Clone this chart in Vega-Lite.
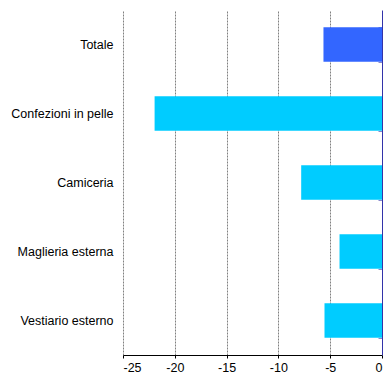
{
  "$schema": "https://vega.github.io/schema/vega-lite/v6.json",
  "autosize": {"type": "none"},
  "width": 259,
  "height": 345,
  "padding": {"left": 123, "top": 10, "right": 3, "bottom": 24},
  "background": "white",
  "config": {"view": {"stroke": null}, "font": "Liberation Sans"},
  "data": {"values": [
    {"cat": "Totale", "val": -5.65, "grp": "tot"},
    {"cat": "Confezioni in pelle", "val": -21.95, "grp": "sub"},
    {"cat": "Camiceria", "val": -7.8, "grp": "sub"},
    {"cat": "Maglieria esterna", "val": -4.1, "grp": "sub"},
    {"cat": "Vestiario esterno", "val": -5.55, "grp": "sub"}
  ]},
  "encoding": {
    "y": {"field": "cat", "type": "nominal", "sort": null,
      "scale": {"paddingInner": 0.5, "paddingOuter": 0.25}}
  },
  "layer": [
    {
      "mark": {"type": "bar"},
      "encoding": {
        "x": {"field": "val", "type": "quantitative",
          "scale": {"domain": [-25, 0], "nice": false},
          "axis": {"title": null, "values": [-25, -20, -15, -10, -5, 0],
            "labelExpr": "replace(datum.label, '−', '-')",
            "grid": true, "gridColor": "#808080", "gridDash": [2, 1], "gridWidth": 1,
            "domainColor": "black", "tickColor": "black", "tickSize": 3,
            "labelFontSize": 12.5, "labelColor": "black", "labelPadding": 3,
            "labelFont": "Liberation Sans"}},
        "y": {"field": "cat", "type": "nominal", "sort": null,
          "axis": {"title": null, "orient": "left", "domain": false, "ticks": false,
            "labelFontSize": 12.5, "labelColor": "black", "labelPadding": 10,
            "labelFont": "Liberation Sans"}},
        "color": {"field": "grp", "type": "nominal",
          "scale": {"domain": ["tot", "sub"], "range": ["#3366FF", "#00CCFF"]},
          "legend": null}
      }
    },
    {
      "mark": {"type": "bar", "opacity": 0},
      "encoding": {
        "x": {"field": "val", "type": "quantitative"},
        "y": {"field": "cat", "type": "nominal", "sort": null,
          "axis": {"title": null, "orient": "left", "offset": -259, "labels": false,
            "domainColor": "#3333AA", "domainWidth": 1, "tickColor": "#8888CC",
            "tickBand": "extent", "tickSize": 4, "tickWidth": 1, "grid": false}}
      }
    }
  ],
  "resolve": {"axis": {"y": "independent"}}
}
